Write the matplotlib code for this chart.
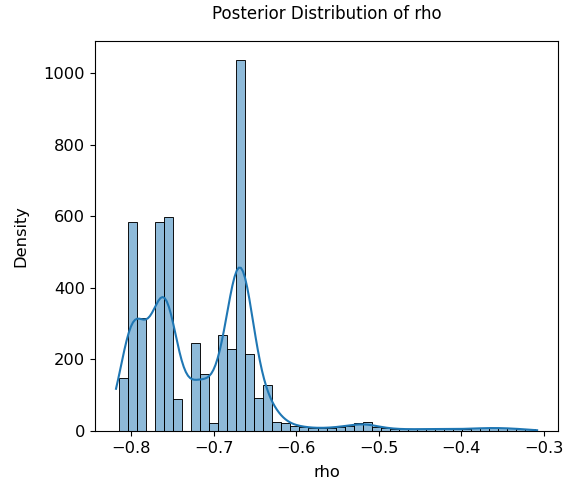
import numpy as np
import pandas as pd
import matplotlib
matplotlib.use("Agg")
import matplotlib.pyplot as plt
import seaborn as sns

# Границы бинов гистограммы (46 бинов)
bin_lo = -0.8155
bin_hi = -0.3110
n_bins = 46

# Высоты столбцов
counts = [148, 585, 316, 0, 585, 599, 88, 0, 246, 158,
          21, 267, 228, 1038, 214, 91, 128, 26, 21, 14,
          11, 7, 7, 9, 11, 14, 22, 24, 12, 7,
          5, 5, 4, 5, 6, 5, 4, 6, 5, 7,
          8, 9, 8, 7, 5, 4]

edges = np.linspace(bin_lo, bin_hi, n_bins + 1)
centers = (edges[:-1] + edges[1:]) / 2
df = pd.DataFrame({'rho': centers, 'w': counts})

fig = plt.figure(figsize=(5.79, 4.88), dpi=100)
ax = fig.add_axes([0.164, 0.117, 0.800, 0.799])

sns.histplot(data=df, x='rho', weights='w', bins=n_bins,
             binrange=(bin_lo, bin_hi), kde=True,
             kde_kws={'bw_adjust': 0.28, 'cut': 0.45}, ax=ax)

ax.set_title('Posterior Distribution of rho', fontsize=12, pad=16)
ax.set_xlabel('rho', fontsize=11.7, labelpad=7)
ax.set_ylabel('Density', fontsize=11.7, labelpad=11)
ax.tick_params(labelsize=11.7)

plt.savefig('out.png', dpi=100)
plt.close()
